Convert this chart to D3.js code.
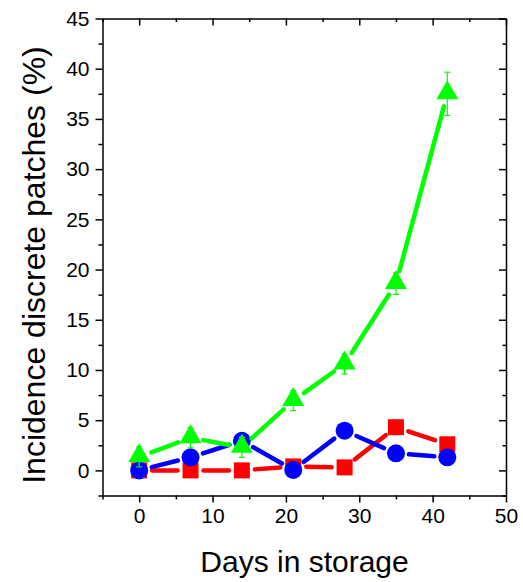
<!DOCTYPE html>
<html>
<head>
<meta charset="utf-8">
<script src="https://cdn.jsdelivr.net/npm/d3@7.9.0/dist/d3.min.js"></script>
<style>
  body { margin: 0; background: #fff; }
  svg { display: block; font-family: "Liberation Sans", Arial, sans-serif; }
</style>
</head>
<body>
<svg width="523" height="582"></svg>
<script>
const days = [0, 7, 14, 21, 28, 35, 42];
const redValues = [0, 0, 0, 0.4, 0.3, 4.3, 2.6];
const blueValues = [0, 1.3, 2.95, 0.05, 3.95, 1.7, 1.3];
const greenValues = [1.35, 3.25, 2.3, 6.95, 10.6, 18.6, 37.5];
const greenErrors = [1.0, 1.0, 1.0, 1.0, 1.0, 1.07, 2.15];
const xTickLabels = [0, 10, 20, 30, 40, 50];
const yTickLabels = [0, 5, 10, 15, 20, 25, 30, 35, 40, 45];

const svg = d3.select('svg');

const x = d3.scaleLinear().domain([-5, 50]).range([102.5, 506]);
const y = d3.scaleLinear().domain([-2.5, 45]).range([495.5, 18.5]);

const xMinor = d3.range(-5, 51, 5).filter(v => !xTickLabels.includes(v));
const yMinor = d3.range(-2.5, 45.1, 2.5).filter(v => !yTickLabels.includes(v));

// axes: major + minor, left/bottom outward, top/right inward
function drawAxis(axisFn, scale, major, minor, transform, inward, labels) {
    let g = svg.append('g').attr('transform', transform);
    let big = axisFn(scale).tickValues(major).tickSizeOuter(0)
        .tickSizeInner(inward ? -7 : 7).tickPadding(labels ? 5 : 0);
    if (!labels) big.tickFormat('');
    g.call(big);
    let small = axisFn(scale).tickValues(minor).tickSizeOuter(0)
        .tickSizeInner(inward ? -3.5 : 4).tickFormat('');
    svg.append('g').attr('transform', transform).call(small)
        .select('.domain').remove();
    return g;
}

let gx = drawAxis(d3.axisBottom, x, xTickLabels, xMinor, `translate(0,${y(-2.5)})`, false, true);
let gy = drawAxis(d3.axisLeft, y, yTickLabels, yMinor, `translate(${x(-5)},0)`, false, true);
drawAxis(d3.axisTop, x, xTickLabels, xMinor, `translate(0,${y(45)})`, true, false);
drawAxis(d3.axisRight, y, yTickLabels, yMinor, `translate(${x(50)},0)`, true, false);

svg.selectAll('.domain, .tick line').attr('stroke', '#000').attr('stroke-width', 1.5);
gx.selectAll('.tick text').attr('font-size', 21).attr('fill', '#000')
    .attr('dy', '0.75em');
gy.selectAll('.tick text').attr('font-size', 21).attr('fill', '#000')
    .attr('dx', '-1');
svg.selectAll('g').attr('font-family', null);

// axis titles
svg.append('text')
    .attr('x', 304.5).attr('y', 572)
    .attr('text-anchor', 'middle').attr('font-size', 30)
    .text('Days in storage');
svg.append('text')
    .attr('transform', 'translate(45,265) rotate(-90)')
    .attr('text-anchor', 'middle').attr('font-size', 32)
    .text('Incidence discrete patches (%)');

// line segments with a gap around each symbol
function drawSeries(values, color, symbol) {
    let pts = days.map((d, i) => [x(d), y(values[i])]);
    let gap = 13;
    let segs = [];
    for (let i = 0; i < pts.length - 1; i++) {
        let [x1, y1] = pts[i], [x2, y2] = pts[i + 1];
        let len = Math.hypot(x2 - x1, y2 - y1);
        if (len <= 2 * gap) continue;
        let ux = (x2 - x1) / len, uy = (y2 - y1) / len;
        segs.push([x1 + ux * gap, y1 + uy * gap, x2 - ux * gap, y2 - uy * gap]);
    }
    svg.append('g').selectAll('line').data(segs).join('line')
        .attr('x1', d => d[0]).attr('y1', d => d[1])
        .attr('x2', d => d[2]).attr('y2', d => d[3])
        .attr('stroke', color).attr('stroke-width', 4.5)
        .attr('stroke-linecap', 'round');
    let g = svg.append('g');
    if (symbol === 'square') {
        g.selectAll('rect').data(pts).join('rect')
            .attr('x', d => d[0] - 8).attr('y', d => d[1] - 8)
            .attr('width', 16).attr('height', 16).attr('fill', color);
    } else if (symbol === 'circle') {
        g.selectAll('circle').data(pts).join('circle')
            .attr('cx', d => d[0]).attr('cy', d => d[1])
            .attr('r', 9).attr('fill', color);
    } else {
        g.selectAll('path').data(pts).join('path')
            .attr('d', d => `M${d[0]},${d[1] - 13.5}L${d[0] + 11},${d[1] + 5.5}L${d[0] - 11},${d[1] + 5.5}Z`)
            .attr('fill', color);
    }
}

drawSeries(redValues, '#ff0000', 'square');
drawSeries(blueValues, '#0000ff', 'circle');

// green error bars
let eb = svg.append('g').attr('stroke', '#00ff00').attr('stroke-width', 1.2);
days.forEach((d, i) => {
    let cx = x(d), top = y(greenValues[i] + greenErrors[i]), bot = y(greenValues[i] - greenErrors[i]);
    eb.append('line').attr('x1', cx).attr('x2', cx).attr('y1', top).attr('y2', bot);
    eb.append('line').attr('x1', cx - 3).attr('x2', cx + 3).attr('y1', top).attr('y2', top);
    eb.append('line').attr('x1', cx - 3).attr('x2', cx + 3).attr('y1', bot).attr('y2', bot);
});
drawSeries(greenValues, '#00ff00', 'triangle');
</script>
</body>
</html>
